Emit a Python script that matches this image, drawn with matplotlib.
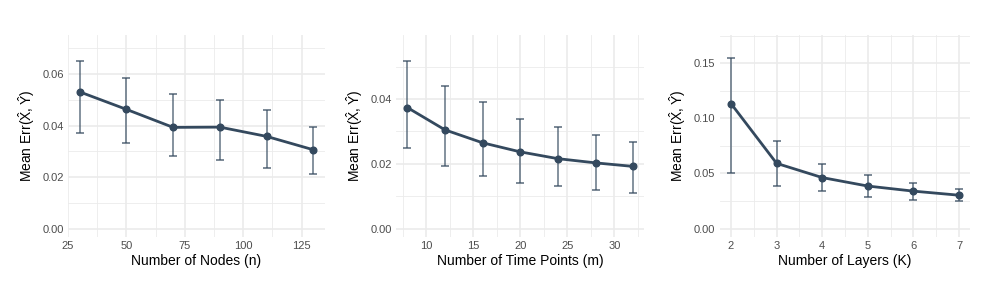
import matplotlib.pyplot as plt
import numpy as np
from matplotlib.ticker import MultipleLocator

plt.rcParams['font.family'] = ['Liberation Sans', 'DejaVu Sans']
plt.rcParams['mathtext.default'] = 'regular'

# panel 1: number of nodes
nodes = [30, 50, 70, 90, 110, 130]
nodes_mean = [0.0531, 0.0463, 0.0393, 0.0394, 0.0358, 0.0306]
nodes_hi = [0.0652, 0.0586, 0.0521, 0.0501, 0.0460, 0.0393]
nodes_lo = [0.0373, 0.0334, 0.0282, 0.0267, 0.0235, 0.0211]

# panel 2: number of time points
times = [8, 12, 16, 20, 24, 28, 32]
times_mean = [0.0374, 0.0305, 0.0265, 0.0237, 0.0216, 0.0203, 0.0192]
times_hi = [0.0519, 0.0440, 0.0391, 0.0338, 0.0314, 0.0288, 0.0269]
times_lo = [0.0249, 0.0193, 0.0162, 0.0142, 0.0131, 0.0118, 0.0109]

# panel 3: number of layers
layers = [2, 3, 4, 5, 6, 7]
layers_mean = [0.1133, 0.0591, 0.0462, 0.0385, 0.0339, 0.0302]
layers_hi = [0.1549, 0.0798, 0.0585, 0.0484, 0.0416, 0.0354]
layers_lo = [0.0502, 0.0385, 0.0336, 0.0286, 0.0262, 0.0249]

col = '#34495e'
W, H = 987, 282

panels = [
    (nodes, nodes_mean, nodes_hi, nodes_lo, 'Number of Nodes (n)',
     (68, 325), (25, 135), (-0.0033, 0.0752), 25, 0.02),
    (times, times_mean, times_hi, times_lo, 'Number of Time Points (m)',
     (396, 644.5), (6.8, 33.2), (-0.0026, 0.0598), 5, 0.02),
    (layers, layers_mean, layers_hi, layers_lo, 'Number of Layers (K)',
     (719.6, 970.4), (1.75, 7.25), (-0.0077, 0.1755), 1, 0.05),
]

fig = plt.figure(figsize=(W / 100, H / 100), dpi=100)
for x, m, hi, lo, xlab, (l, r), xlim, ylim, xstep, ystep in panels:
    ax = fig.add_axes([l / W, 1 - 237 / H, (r - l) / W, (237 - 35) / H])
    x = np.array(x)
    m = np.array(m)
    yerr = [m - np.array(lo), np.array(hi) - m]
    ax.errorbar(x, m, yerr=yerr, fmt='none', ecolor=col, alpha=0.7,
                elinewidth=1.2, capsize=2.8, capthick=1.3, zorder=2)
    ax.plot(x, m, color=col, lw=2, marker='o', ms=4.8, zorder=3)
    ax.set_xlim(*xlim)
    ax.set_ylim(*ylim)
    ax.xaxis.set_major_locator(MultipleLocator(xstep))
    ax.xaxis.set_minor_locator(MultipleLocator(xstep / 2))
    ax.yaxis.set_major_locator(MultipleLocator(ystep))
    ax.yaxis.set_minor_locator(MultipleLocator(ystep / 2))
    ax.yaxis.set_major_formatter(lambda v, p: f'{v:.2f}')
    ax.grid(which='major', color='#ebebeb', lw=1.2)
    ax.grid(which='minor', color='#ebebeb', lw=0.6)
    ax.set_axisbelow(True)
    for s in ax.spines.values():
        s.set_visible(False)
    ax.tick_params(which='both', length=0, labelsize=8, labelcolor='#4d4d4d',
                   pad=3)
    ax.set_xlabel(xlab, fontsize=10, labelpad=2)
    ax.set_ylabel(r'Mean Err$(\hat{X},\hat{Y})$', fontsize=10, labelpad=4)

fig.savefig('out.png', dpi=100)
